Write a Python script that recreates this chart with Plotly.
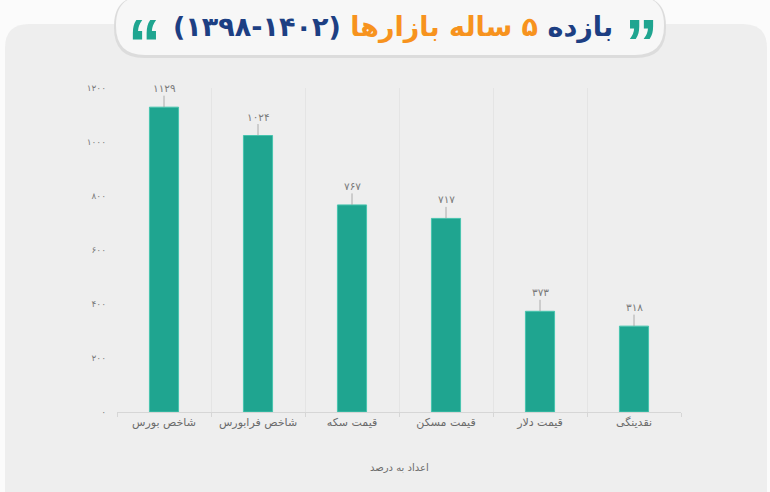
import plotly.graph_objects as go

# ---------------- data ----------------
categories = ["شاخص بورس", "شاخص فرابورس", "قیمت سکه", "قیمت مسکن", "قیمت دلار", "نقدینگی"]
returns_pct = [1129, 1024, 767, 717, 373, 318]
y_tick_values = [0, 200, 400, 600, 800, 1000, 1200]
y_tick_labels = ["۰", "۲۰۰", "۴۰۰", "۶۰۰", "۸۰۰", "۱۰۰۰", "۱۲۰۰"]
title_word_1 = "بازده"
title_word_2 = "۵ ساله بازارها"
title_years = "۱۳۹۸-۱۴۰۲"
x_axis_title = "اعداد به درصد"

FA = str.maketrans("0123456789", "۰۱۲۳۴۵۶۷۸۹")


def fa(n):
    return str(n).translate(FA)


# ---------------- layout geometry ----------------
W, H = 770, 492
L, R, T, B = 117, 89, 88, 80
PW, PH = W - L - R, H - T - B

TEAL = "#1fa590"
NAVY = "#1d3f83"
ORANGE = "#f7931e"
FONT = "DejaVu Sans"


def px(xp):
    return (xp - L) / PW


def py(yp):
    return 1 - (yp - T) / PH


def rrect(x0, y0, x1, y1, r):
    """rounded rectangle path in paper coords from pixel coords"""
    X = lambda v: px(v)
    Y = lambda v: py(v)
    return (
        f"M {X(x0 + r)},{Y(y0)} L {X(x1 - r)},{Y(y0)} Q {X(x1)},{Y(y0)} {X(x1)},{Y(y0 + r)} "
        f"L {X(x1)},{Y(y1 - r)} Q {X(x1)},{Y(y1)} {X(x1 - r)},{Y(y1)} "
        f"L {X(x0 + r)},{Y(y1)} Q {X(x0)},{Y(y1)} {X(x0)},{Y(y1 - r)} "
        f"L {X(x0)},{Y(y0 + r)} Q {X(x0)},{Y(y0)} {X(x0 + r)},{Y(y0)} Z"
    )


fig = go.Figure(
    go.Bar(
        x=categories,
        y=returns_pct,
        marker=dict(color=TEAL, line=dict(color="#47c4ae", width=1)),
        hoverinfo="x+y",
    )
)

shapes = [
    # chart panel
    dict(type="path", xref="paper", yref="paper", path=rrect(5, 24, 767, 520, 24),
         fillcolor="#eeeeee", line=dict(width=0), layer="below"),
    # title pill shadow + pill
    dict(type="path", xref="paper", yref="paper", path=rrect(114, -4, 666, 58, 30),
         fillcolor="#dcdcdc", line=dict(width=0), layer="below"),
    dict(type="path", xref="paper", yref="paper", path=rrect(116, -4, 664, 55, 29),
         fillcolor="#f7f7f7", line=dict(width=0), layer="below"),
]

annotations = []
for c, v in zip(categories, returns_pct):
    annotations.append(dict(
        x=c, y=v, xref="x", yref="y", text=fa(v), showarrow=True, arrowhead=0,
        arrowwidth=0.8, arrowcolor="#9a9a9a", ax=0, ay=-19, standoff=0,
        font=dict(family=FONT, size=10.5, color="#7a7a7a"),
    ))

title_text = (
    f"(\u200e{title_years}) "
    f"<span style='color:{NAVY}'>{title_word_1}</span> "
    f"<span style='color:{ORANGE}'>{title_word_2}</span>"
)
annotations += [
    dict(xref="paper", yref="paper", x=px(393), y=py(27), text=f"<b>{title_text}</b>",
         showarrow=False, font=dict(family=FONT, size=27, color=NAVY),
         xanchor="center", yanchor="middle"),
    dict(xref="paper", yref="paper", x=px(144), y=py(4), text="<b>\u201c</b>",
         showarrow=False, font=dict(family="Liberation Sans", size=66, color=TEAL),
         xanchor="center", yanchor="top"),
    dict(xref="paper", yref="paper", x=px(641), y=py(4), text="<b>\u201d</b>",
         showarrow=False, font=dict(family="Liberation Sans", size=66, color=TEAL),
         xanchor="center", yanchor="top"),
    dict(xref="paper", yref="paper", x=0.5, y=py(467), text=x_axis_title,
         showarrow=False, font=dict(family=FONT, size=10, color="#6a6a6a"),
         xanchor="center", yanchor="middle"),
]

fig.update_layout(
    width=W, height=H,
    margin=dict(l=L, r=R, t=T, b=B, pad=0),
    paper_bgcolor="#fbfbfb",
    plot_bgcolor="rgba(0,0,0,0)",
    bargap=0.69,
    showlegend=False,
    shapes=shapes,
    annotations=annotations,
    font=dict(family=FONT),
    xaxis=dict(
        type="category", tickson="boundaries", showgrid=True, gridcolor="#e4e4e4",
        gridwidth=1, showline=True, linecolor="#d6d6d6", linewidth=1,
        ticks="outside", ticklen=4, tickcolor="#d6d6d6",
        tickfont=dict(family=FONT, size=11, color="#6a6a6a"),
        fixedrange=True,
    ),
    yaxis=dict(
        range=[0, 1200], tickvals=y_tick_values, ticktext=y_tick_labels,
        showgrid=False, zeroline=False, showline=False, ticks="",
        ticklabelstandoff=10,
        tickfont=dict(family=FONT, size=9, color="#7a7a7a"),
        fixedrange=True,
    ),
)

fig.write_html("out.html")
